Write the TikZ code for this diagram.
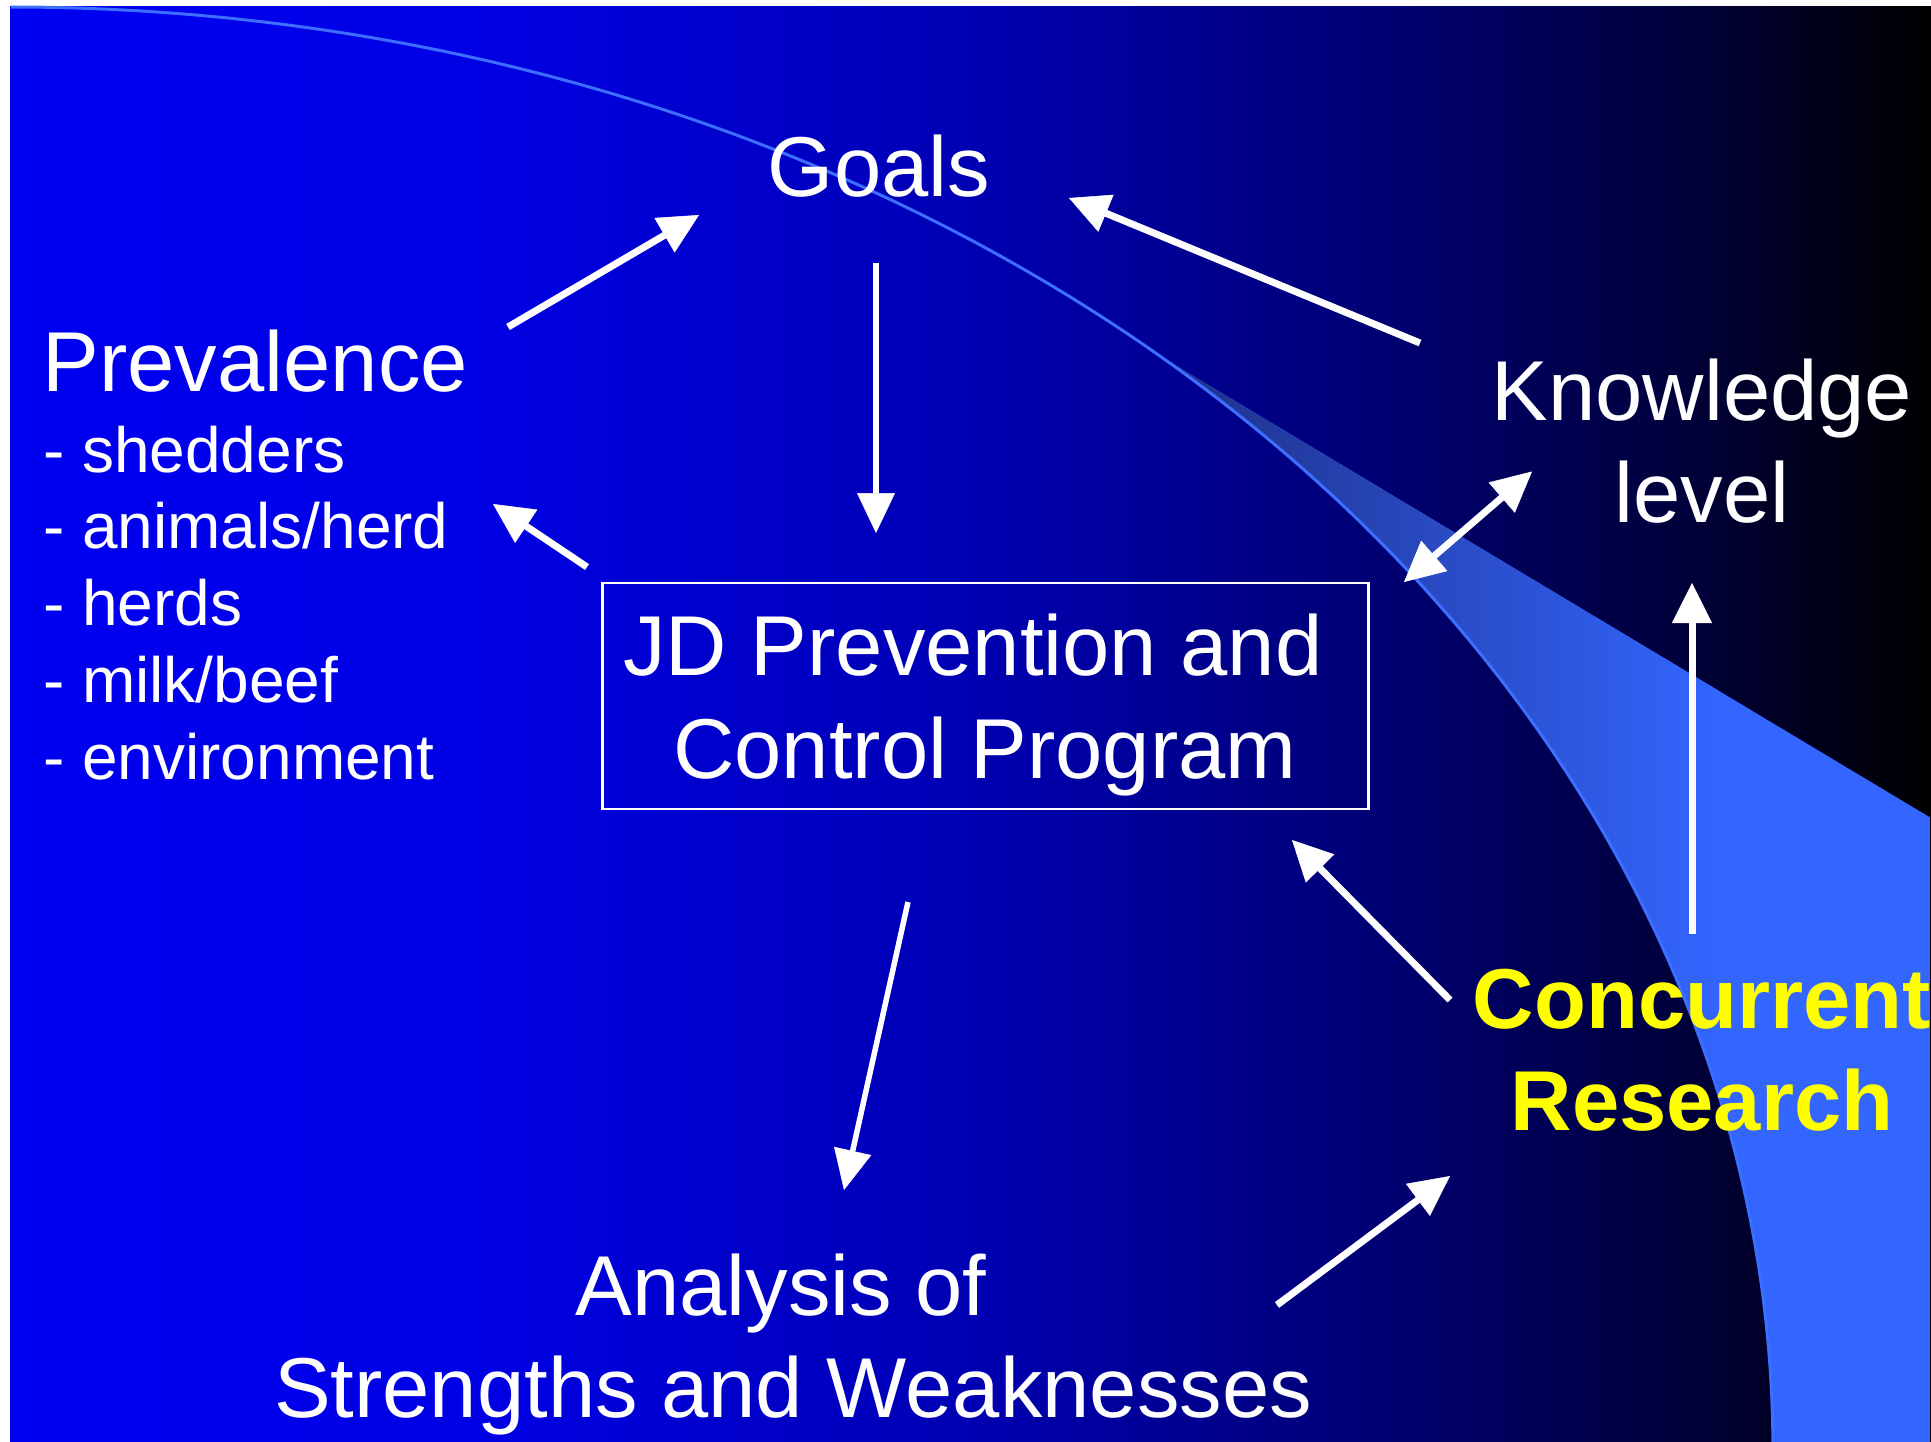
\documentclass[tikz,border=0pt]{standalone}
\usepackage{fontspec}
\setmainfont{Liberation Sans}
\usetikzlibrary{arrows.meta}
\definecolor{bgA}{RGB}{0,0,242}
\definecolor{bgB}{RGB}{0,0,228}
\definecolor{bgC}{RGB}{0,0,180}
\definecolor{bgD}{RGB}{0,0,115}
\definecolor{bgE}{RGB}{0,0,55}
\definecolor{bgF}{RGB}{0,0,0}
\definecolor{banddark}{RGB}{30,45,130}
\definecolor{bandlight}{RGB}{51,102,255}
\definecolor{arcblue}{RGB}{60,110,255}
\definecolor{cryellow}{RGB}{255,255,0}
\pgfdeclarehorizontalshading{bgshade}{100bp}{color(0bp)=(bgA); color(25bp)=(bgA); color(37.2bp)=(bgB); color(49.7bp)=(bgC); color(60.7bp)=(bgD); color(69bp)=(bgE); color(75bp)=(bgF); color(100bp)=(bgF)}
\tikzset{
  bigtxt/.style={text=white, inner sep=0pt, font=\fontsize{85}{101}\selectfont},
  smalltxt/.style={text=white, inner sep=0pt, font=\fontsize{64}{76}\selectfont},
  crtxt/.style={text=cryellow, inner sep=0pt, font=\fontsize{85}{101}\selectfont\bfseries},
  arr/.style={draw=white, line width=7pt, -{Triangle[length=40pt,width=40pt,line width=0.5pt]}},
  thinarr/.style={draw=white, line width=5.5pt, -{Triangle[length=40pt,width=38pt,line width=0.5pt]}},
  dblarr/.style={draw=white, line width=7pt, {Triangle[length=40pt,width=40pt,line width=0.5pt]}-{Triangle[length=40pt,width=40pt,line width=0.5pt]}},
  boxstyle/.style={draw=white, line width=2.2pt, inner sep=0pt, minimum width=766pt, minimum height=226pt},
  arcline/.style={draw=arcblue, line width=3pt}
}
\begin{document}
\begin{tikzpicture}[x=1pt,y=-1pt]
\useasboundingbox (0,0) rectangle (1931,1442);
\fill[white] (0,0) rectangle (1931,1442);
\begin{scope}
  \clip (0,0) rectangle (1931,1442);
  % background gradient
  \shade[shading=bgshade] (10,7) rectangle (1931,1442);
  % light band
  \begin{scope}
    \clip plot[domain=90:-1, samples=180] ({11+1762*cos(\x)}, {1450-1443*sin(\x)}) -- (1931,1480) -- (1931,0) -- cycle;
    \clip (1150,350) -- (1931,818) -- (1931,1480) -- (1150,1480) -- cycle;
    \fill[bandlight] (1100,0) rectangle (1929.5,1480);
    \shade[left color=banddark, right color=bandlight] (1140,240) rectangle (1720,1480);
  \end{scope}
  % arc line
  \draw[arcline] plot[domain=90:-1, samples=180] ({11+1762*cos(\x)}, {1450-1443*sin(\x)});
\end{scope}

% box
\node[boxstyle] (jd) at (985.5,695.8) {};
\node[bigtxt, anchor=base] (jd1) at (973,675) {JD Prevention and};
\node[bigtxt, anchor=base] (jd2) at (985,778) {Control Program};

% texts
\node[bigtxt, anchor=base] (goals) at (879,197) {Goals};
\node[bigtxt, anchor=base west] (prev) at (42.5,391) {Prevalence};
\node[smalltxt, anchor=base west] (prev1) at (43,472) {- shedders};
\node[smalltxt, anchor=base west] (prev2) at (43,548) {- animals/herd};
\node[smalltxt, anchor=base west] (prev3) at (43,625) {- herds};
\node[smalltxt, anchor=base west] (prev4) at (43,702) {- milk/beef};
\node[smalltxt, anchor=base west] (prev5) at (43,779) {- environment};
\node[bigtxt, anchor=base] (know1) at (1702,420) {Knowledge};
\node[bigtxt, anchor=base] (know2) at (1702,522.5) {level};
\node[crtxt, anchor=base] (cr1) at (1702,1028) {Concurrent};
\node[crtxt, anchor=base] (cr2) at (1702,1130) {Research};
\node[bigtxt, anchor=base] (an1) at (781,1315.5) {Analysis of};
\node[bigtxt, anchor=base] (an2) at (793,1417.5) {Strengths and Weaknesses};

% arrow end points
\coordinate (p1s) at (508,327);   \coordinate (p1e) at (699,215);
\coordinate (g2s) at (876,263);   \coordinate (g2e) at (876,533);
\coordinate (k3s) at (1420,343);  \coordinate (k3e) at (1069,198);
\coordinate (j4s) at (587,567);   \coordinate (j4e) at (493,504);
\coordinate (d5a) at (1404,582);  \coordinate (d5b) at (1532,471.5);
\coordinate (c6s) at (1692,934);  \coordinate (c6e) at (1692,583);
\coordinate (c7s) at (1450,1000); \coordinate (c7e) at (1292,840);
\coordinate (j8s) at (908,902);   \coordinate (j8e) at (844,1190);
\coordinate (a9s) at (1277,1305); \coordinate (a9e) at (1450,1176);

\draw[arr] (p1s) -- (p1e);
\draw[thinarr] (g2s) -- (g2e);
\draw[arr] (k3s) -- (k3e);
\draw[arr] (j4s) -- (j4e);
\draw[dblarr] (d5a) -- (d5b);
\draw[arr] (c6s) -- (c6e);
\draw[arr] (c7s) -- (c7e);
\draw[thinarr] (j8s) -- (j8e);
\draw[arr] (a9s) -- (a9e);
\end{tikzpicture}
\end{document}
